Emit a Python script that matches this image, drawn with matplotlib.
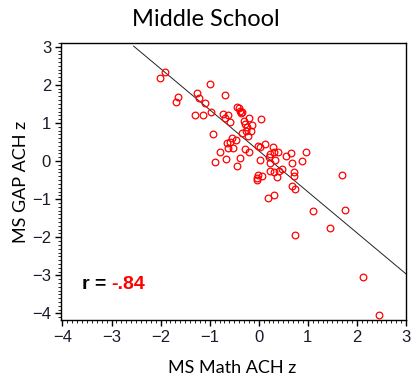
import numpy as np
from matplotlib import pyplot as plt
from matplotlib.ticker import MultipleLocator

# Middle school: math achievement z vs gap achievement z
ms_math_z = [-1.92, -2.02, -1.64, -1.69, -0.99, -1.25, -1.21, -1.09, -0.69,
             -1.30, -1.13, -0.97, -0.72, -0.69, -0.62, -0.59, -0.44, -0.39,
             -0.34, -0.19, -0.30, -0.29, 0.04, -0.14, -0.16, -0.93, -0.35,
             -0.27, -0.21, -0.55, -0.59, -0.65, -0.62, -0.52, -0.80, -0.28,
             -0.19, -0.01, 0.03, 0.13, 0.28, 0.31, 0.40, 0.23, 0.56, 0.66,
             0.96, -0.89, -0.67, -0.38, 0.03, 0.33, 0.23, 0.67, 0.89, -0.45,
             0.47, 0.23, 0.32, 0.42, 0.71, 0.72, -0.01, 0.06, -0.04, -0.03,
             0.38, 1.69, 0.68, 0.74, 0.18, 0.31, 1.10, 1.76, 1.45, 0.73,
             2.12, 2.46, -0.41, -0.36, -0.24, -0.47, 0.20]
ms_gap_z = [2.33, 2.18, 1.67, 1.56, 2.02, 1.79, 1.65, 1.52, 1.74,
            1.20, 1.20, 1.28, 1.24, 1.13, 1.22, 1.02, 1.43, 1.31,
            1.30, 1.13, 1.06, 0.98, 1.10, 0.95, 0.80, 0.72, 0.74,
            0.78, 0.66, 0.60, 0.49, 0.47, 0.34, 0.34, 0.25, 0.32,
            0.23, 0.40, 0.38, 0.45, 0.38, 0.25, 0.23, 0.18, 0.14, 0.21,
            0.24, -0.03, 0.06, 0.09, 0.03, 0.02, -0.05, -0.05, -0.01, -0.14,
            -0.20, -0.27, -0.29, -0.27, -0.30, -0.39, -0.36, -0.40, -0.45, -0.49,
            -0.43, -0.36, -0.65, -0.73, -0.97, -0.90, -1.30, -1.28, -1.76, -1.93,
            -3.04, -4.03, 1.38, 1.27, 0.90, 0.55, 0.10]

# fitted line
fit_slope = -1.077
fit_intercept = 0.27
fit_x = np.array([-2.55, 3.0])
r_text = "-.84"

fig = plt.figure(figsize=(4.11, 3.80), dpi=100)
ax = fig.add_axes([0.1496, 0.158, 0.8394, 0.729])

ax.plot(fit_x, fit_slope * fit_x + fit_intercept, color='#222222', linewidth=0.7)
ax.plot(ms_math_z, ms_gap_z, linestyle='none', marker='o', markersize=4.8,
        markerfacecolor='none', markeredgecolor='red', markeredgewidth=0.9)

ax.set_xlim(-4.02, 3.01)
ax.set_ylim(-4.17, 3.1)
ax.xaxis.set_major_locator(MultipleLocator(1))
ax.yaxis.set_major_locator(MultipleLocator(1))
ax.xaxis.set_minor_locator(MultipleLocator(0.1))
ax.yaxis.set_minor_locator(MultipleLocator(0.1))
ax.tick_params(which='major', direction='out', length=4, width=1, labelsize=12,
               labelcolor='#1a1a2a')
ax.tick_params(which='minor', direction='out', length=2, width=0.6)
for lbl in ax.get_xticklabels() + ax.get_yticklabels():
    lbl.set_family('Liberation Sans')
for s in ax.spines.values():
    s.set_linewidth(1)

t1 = ax.text(-3.6, -3.25, "r = ", fontsize=14, fontweight='bold',
             family='Liberation Sans', va='center', ha='left')
ax.annotate(r_text, xy=(1, 0.5), xycoords=t1, va='center', ha='left',
            fontsize=14, fontweight='bold', color='red', family='Liberation Sans')

fig.text(0.50, 0.95, "Middle School", ha='center', va='center', fontsize=17,
         family='Lato')
fig.text(0.565, 0.032, "MS Math ACH z", ha='center', va='center', fontsize=13,
         family='Lato')
fig.text(0.05, 0.52, "MS GAP ACH z", ha='center', va='center', fontsize=13,
         family='Lato', rotation=90)

plt.savefig('out.png', dpi=100)
